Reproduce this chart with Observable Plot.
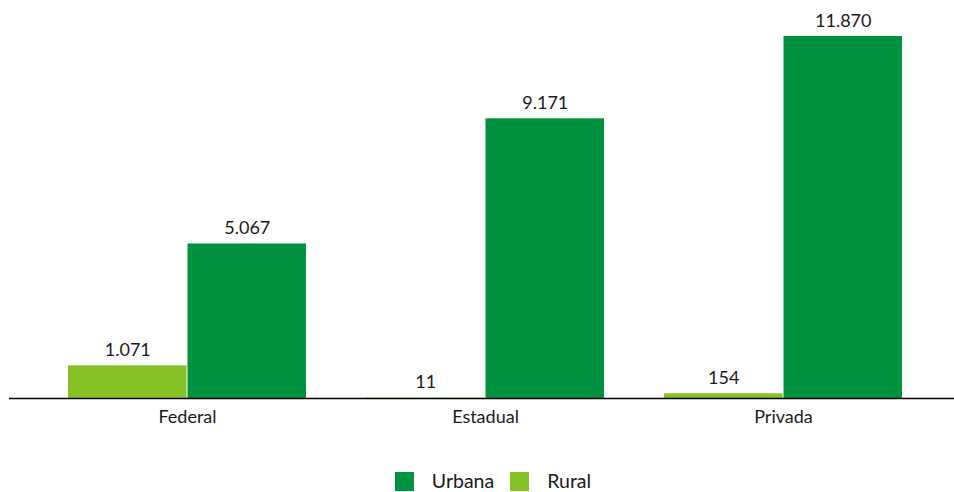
<!DOCTYPE html>
<html>
<head>
<meta charset="utf-8">
<script src="https://cdn.jsdelivr.net/npm/d3@7"></script>
<script src="https://cdn.jsdelivr.net/npm/@observablehq/plot@0.6"></script>
<style>
  html, body { margin: 0; padding: 0; background: #fff; }
  body { width: 954px; font-family: Lato, "Open Sans", sans-serif; overflow: hidden; }
  #chart svg { display: block; }
  #legend { display: flex; justify-content: center; align-items: center; margin-top: 16px; height: 20px; line-height: 20px; font-size: 19.5px; color: #1a1a1a; padding-left: 32px; }
  .item { display: flex; align-items: center; margin: 0 8px; height: 20px; }
  .sw { width: 19px; height: 19px; margin-right: 18px; }
</style>
</head>
<body>
<div id="chart"></div>
<div id="legend"></div>
<script>
const categories = ["Federal", "Estadual", "Privada"];
const series = ["Urbana", "Rural"];
const urbana = [5067, 9171, 11870];
const rural = [1071, 11, 154];
const colors = { Urbana: "#00923F", Rural: "#84C225" };

const fmt = d3.formatLocale({ decimal: ",", thousands: ".", grouping: [3], currency: ["R$", ""] }).format(",d");

const data = [];
categories.forEach((c, i) => {
  data.push({ cat: c, serie: "Rural", value: rural[i] });
  data.push({ cat: c, serie: "Urbana", value: urbana[i] });
});
const ruralData = data.filter(d => d.serie === "Rural");
const urbanaData = data.filter(d => d.serie === "Urbana");

const half = 119.5;

const chart = Plot.plot({
  width: 954,
  height: 455,
  marginTop: 36,
  marginBottom: 57,
  marginLeft: 9,
  marginRight: 0,
  style: { fontFamily: "Lato, 'Open Sans', sans-serif", fontSize: "18px", color: "#1a1a1a", background: "#fff" },
  x: { domain: categories, range: [8.4, 962.6], padding: 0.2, label: null },
  y: { domain: [0, 11870], axis: null },
  marks: [
    Plot.barY(ruralData, { x: "cat", y: "value", fill: colors.Rural, insetRight: half }),
    Plot.barY(urbanaData, { x: "cat", y: "value", fill: colors.Urbana, insetLeft: half }),
    Plot.text(ruralData, { x: "cat", y: "value", text: d => fmt(d.value), dx: -half / 2, dy: -10, lineAnchor: "bottom", fontSize: 18, fill: "#1a1a1a" }),
    Plot.text(urbanaData, { x: "cat", y: "value", text: d => fmt(d.value), dx: half / 2, dy: -10, lineAnchor: "bottom", fontSize: 18, fill: "#1a1a1a" }),
    Plot.ruleY([0], { stroke: "#000", strokeWidth: 1.3 }),
    Plot.axisX({ tickSize: 0, tickPadding: 12, fontSize: 18, label: null, fill: "#1a1a1a" })
  ]
});
document.getElementById("chart").appendChild(chart);

const legend = document.getElementById("legend");
series.forEach(s => {
  const it = document.createElement("div");
  it.className = "item";
  const sw = document.createElement("span");
  sw.className = "sw";
  sw.style.background = colors[s];
  const t = document.createElement("span");
  t.textContent = s;
  it.appendChild(sw);
  it.appendChild(t);
  legend.appendChild(it);
});
</script>
</body>
</html>
